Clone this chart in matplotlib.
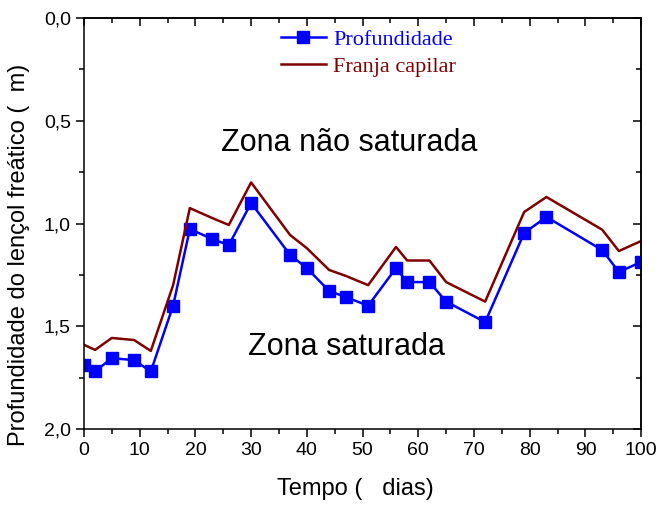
import matplotlib
matplotlib.use('Agg')
import matplotlib.pyplot as plt
from matplotlib.ticker import MultipleLocator, FuncFormatter

plt.rcParams['font.family'] = ['Liberation Sans', 'DejaVu Sans']

# tempo (dias) e profundidade do lençol freático (m)
dias = [0, 2, 5, 9, 12, 16, 19, 23, 26, 30, 37, 40, 44, 47, 51,
        56, 58, 62, 65, 72, 79, 83, 93, 96, 100]
profundidade = [1.69, 1.72, 1.655, 1.665, 1.72, 1.40, 1.027, 1.075, 1.105, 0.90,
                1.153, 1.217, 1.328, 1.358, 1.40, 1.217, 1.285, 1.285, 1.38, 1.48,
                1.046, 0.968, 1.129, 1.236, 1.187]
franja = [1.59, 1.615, 1.557, 1.567, 1.62, 1.30, 0.925, 0.973, 1.007, 0.80,
          1.056, 1.12, 1.226, 1.255, 1.30, 1.114, 1.18, 1.18, 1.285, 1.38,
          0.944, 0.871, 1.03, 1.134, 1.085]

fig = plt.figure(figsize=(6.61, 5.08), dpi=100)
ax = fig.add_axes([0.127, 0.1555, 0.843, 0.809])

ax.plot(dias, profundidade, color='#0000ff', lw=1.8, marker='s', ms=9,
        label='Profundidade')
ax.plot(dias, franja, color='#800000', lw=1.8, label='Franja capilar')

ax.set_xlim(0, 100)
ax.set_ylim(2.0, 0.0)

ax.xaxis.set_major_locator(MultipleLocator(10))
ax.xaxis.set_minor_locator(MultipleLocator(5))
ax.yaxis.set_major_locator(MultipleLocator(0.5))
ax.yaxis.set_minor_locator(MultipleLocator(0.25))
ax.yaxis.set_major_formatter(FuncFormatter(lambda v, p: f'{v:.1f}'.replace('.', ',')))

ax.tick_params(which='both', direction='out', top=False, right=False,
               labelsize=14, width=1.1)
ax.tick_params(which='major', length=6)
ax.tick_params(which='minor', length=3.5)
# ticks internos no topo e à direita
sec_x = ax.secondary_xaxis('top')
sec_x.xaxis.set_major_locator(MultipleLocator(10))
sec_x.xaxis.set_minor_locator(MultipleLocator(5))
sec_x.tick_params(which='both', direction='in', labeltop=False, width=1.1)
sec_x.tick_params(which='major', length=6)
sec_x.tick_params(which='minor', length=3.5)
sec_y = ax.secondary_yaxis('right')
sec_y.yaxis.set_major_locator(MultipleLocator(0.5))
sec_y.yaxis.set_minor_locator(MultipleLocator(0.25))
sec_y.tick_params(which='both', direction='in', labelright=False, width=1.1)
sec_y.tick_params(which='major', length=6)
sec_y.tick_params(which='minor', length=3.5)
for s in list(ax.spines.values()) + [sec_x.spines['top'], sec_y.spines['right']]:
    s.set_linewidth(1.1)

ax.set_xlabel('Tempo (   dias)', fontsize=17)
ax.set_ylabel('Profundidade do lençol freático (  m)', fontsize=17)
ax.xaxis.set_label_coords(0.487, -0.12)
ax.yaxis.set_label_coords(-0.097, 0.423)

ax.text(47.6, 0.61, 'Zona não saturada', fontsize=22, ha='center', va='center')
ax.text(47.2, 1.60, 'Zona saturada', fontsize=22, ha='center', va='center')

leg = ax.legend(loc='upper left', bbox_to_anchor=(0.33, 1.005), frameon=False,
                prop={'family': 'Liberation Serif', 'size': 16},
                handlelength=2.0, handletextpad=0.35, labelspacing=0.3,
                borderaxespad=0.2)
for txt, line in zip(leg.get_texts(), leg.get_lines()):
    txt.set_color(line.get_color())

fig.savefig('out.png', dpi=100)
